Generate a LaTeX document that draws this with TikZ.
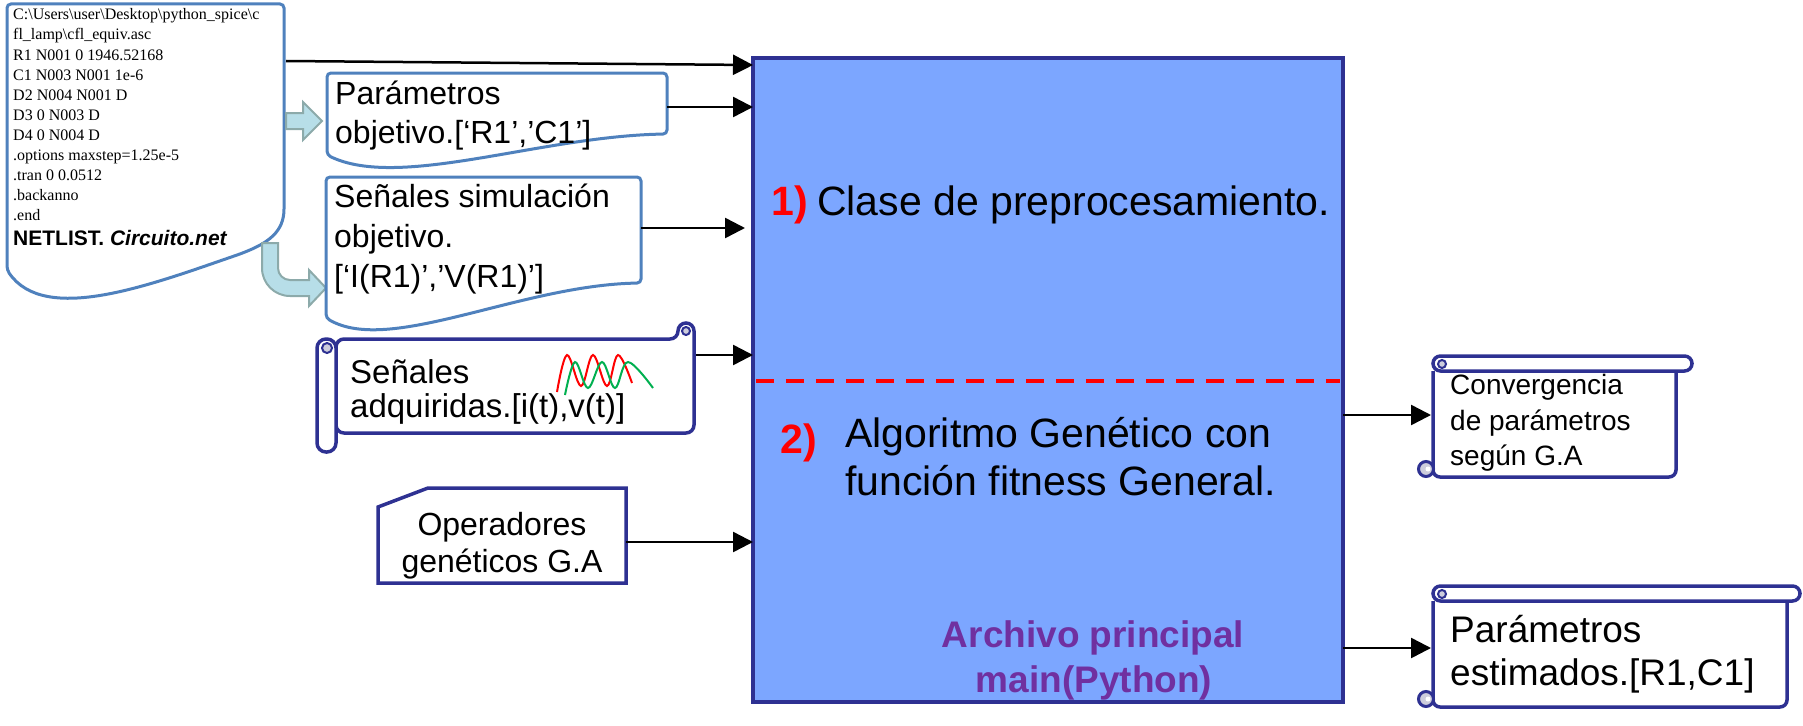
\documentclass[tikz,border=0pt]{standalone}
\usepackage{fontspec}
\setmainfont{Liberation Sans}
\newfontfamily\tnr{Liberation Serif}
\usetikzlibrary{arrows.meta,calc}
\definecolor{docblue}{RGB}{79,129,189}
\definecolor{navy}{RGB}{46,49,146}
\definecolor{mainfill}{RGB}{124,166,255}
\definecolor{tealfill}{RGB}{183,222,232}
\definecolor{tealline}{RGB}{140,170,170}
\definecolor{purp}{RGB}{112,48,160}
\definecolor{grn}{RGB}{0,176,80}
\definecolor{curlgray}{RGB}{205,205,220}
\begin{document}
\begin{tikzpicture}[x=1pt,y=-1pt,
  arr/.style={line width=2.5pt,-{Triangle[length=20pt,width=20pt]}},
  docshape/.style={draw=docblue,line width=3pt,fill=white,rounded corners=4pt},
  scrollline/.style={draw=navy,line width=3.5pt,fill=white},
  curl/.style={draw=navy,line width=2pt,fill=curlgray},
  blockarrow/.style={draw=tealline,line width=2pt,fill=tealfill},
  txt/.style={inner sep=0pt,anchor=base west},
  ctxt/.style={inner sep=0pt,anchor=base},
  net/.style={txt,font=\tnr\fontsize{16}{20}\selectfont},
  f32/.style={font=\fontsize{32}{38}\selectfont},
  f33/.style={font=\fontsize{33}{38}\selectfont},
  f28/.style={font=\fontsize{28}{34}\selectfont},
  f37/.style={font=\fontsize{37}{43}\selectfont},
  f41/.style={font=\fontsize{41}{48}\selectfont},
  numred/.style={txt,text=red,font=\fontsize{41}{48}\selectfont\bfseries},
  purtxt/.style={ctxt,text=purp,font=\fontsize{37}{43}\selectfont\bfseries}
]
\useasboundingbox (0,0) rectangle (1803,725);

% ---------- main box ----------
\node[draw=navy,line width=4pt,fill=mainfill,minimum width=590pt,minimum height=644pt,
      inner sep=0pt,outer sep=0pt,anchor=north west] (main) at (753,58) {};
\coordinate (dashy) at (0,381);
\draw[red,line width=4pt,dash pattern=on 18pt off 12pt] ($(main.west |- dashy)+(3,0)$) -- ($(main.east |- dashy)+(-3,0)$);

\node[numred] (n1) at (771,215) {1)};
\node[txt,f41] (clase) at (817,215) {Clase de preprocesamiento.};
\node[numred] (n2) at (780,453) {2)};
\node[txt,f41] (alg1) at (845,447) {Algoritmo Genético con};
\node[txt,f41] (alg2) at (845,495) {función fitness General.};
\node[purtxt] (arch1) at (1093,647) {Archivo principal};
\node[purtxt] (arch2) at (1094,692) {main(Python)};

% ---------- netlist document ----------
\draw[docshape] (7,100) -- (7,4) -- (284,4) -- (284,205)
  .. controls (284,232) and (268,243) .. (240,254)
  .. controls (150,285) and (45,325) .. (7,270) -- cycle;
\node[net] (l1) at (13,20) {C:\textbackslash Users\textbackslash user\textbackslash Desktop\textbackslash python\_spice\textbackslash c};
\node[net] (l2) at (13,40) {fl\_lamp\textbackslash cfl\_equiv.asc};
\node[net] (l3) at (13,60) {R1 N001 0 1946.52168};
\node[net] (l4) at (13,80) {C1 N003 N001 1e-6};
\node[net] (l5) at (13,100) {D2 N004 N001 D};
\node[net] (l6) at (13,120) {D3 0 N003 D};
\node[net] (l7) at (13,140) {D4 0 N004 D};
\node[net] (l8) at (13,160) {.options maxstep=1.25e-5};
\node[net] (l9) at (13,180) {.tran 0 0.0512};
\node[net] (l10) at (13,200) {.backanno};
\node[net] (l11) at (13,220) {.end};
\node[txt,font=\fontsize{21}{25}\selectfont\bfseries] (netlist) at (13,245) {NETLIST. \itshape Circuito.net};

% ---------- block arrows ----------
\draw[blockarrow] (286,113) -- (303,113) -- (303,102) -- (322,121) -- (303,140) -- (303,129) -- (286,129) -- cycle;
\draw[blockarrow] (262,243) -- (262,268) .. controls (262,283.5) and (274.5,296) .. (290,296)
  -- (309,296) -- (309,306) -- (326,288) -- (309,270) -- (309,280) -- (290,280)
  .. controls (283.4,280) and (278,274.6) .. (278,268) -- (278,243) -- cycle;

% ---------- Parametros objetivo ----------
\draw[docshape] (327,110) -- (327,73) -- (667,73) -- (667,134)
  .. controls (540,136) and (400,190) .. (327,155) -- cycle;
\node[txt,f32] (po1) at (335,104) {Parámetros};
\node[txt,f32] (po2) at (335,143) {objetivo.[‘R1’,’C1’]};

% ---------- Senales simulacion ----------
\draw[docshape] (326,250) -- (326,177) -- (641,177) -- (641,283)
  .. controls (520,285) and (390,355) .. (326,318) -- cycle;
\node[txt,f32] (ss1) at (334,207) {Señales simulación};
\node[txt,f32] (ss2) at (334,247) {objetivo.};
\node[txt,f32] (ss3) at (334,287) {[‘I(R1)’,’V(R1)’]};

% ---------- Senales adquiridas (scroll) ----------
\draw[scrollline,rounded corners=8pt] (336,339) -- (678,339) -- (678,323) -- (694,323) -- (694,433) -- (336,433) -- cycle;
\draw[curl] (686,331) circle[radius=4];
\draw[scrollline,rounded corners=9pt] (317,339) rectangle (336,452);
\draw[curl] (327,348) circle[radius=5];
\node[txt,f33] (sa1) at (350,383) {Señales};
\node[txt,f33] (sa2) at (350,417) {adquiridas.[i(t),v(t)]};
\draw[red,line width=2pt] plot[smooth,tension=0.6] coordinates {(557,392) (567,355) (581,386) (593,355) (607,386) (618,355) (632,383)};
\draw[grn,line width=2pt] plot[smooth,tension=0.6] coordinates {(565,395) (575,362) (588,388) (602,362) (615,388) (628,362) (653,388)};

% ---------- Operadores ----------
\draw[draw=navy,line width=3.5pt,fill=white] (378,507) -- (428,488) -- (626,488) -- (626,583) -- (378,583) -- cycle;
\node[ctxt,f32] (op1) at (502,535) {Operadores};
\node[ctxt,f32] (op2) at (502,572) {genéticos G.A};

% ---------- Convergencia (scroll) ----------
\draw[scrollline,rounded corners=7pt] (1433,371) -- (1433,477) -- (1676,477) -- (1676,371);
\draw[scrollline,rounded corners=7.5pt] (1433,356) rectangle (1692,371);
\draw[curl] (1442,364) circle[radius=4];
\draw[curl,line width=3pt] (1426,469) circle[radius=7.5];
\fill[white] (1428,469) circle[radius=2.5];
\node[txt,f28] (cv1) at (1450,394) {Convergencia};
\node[txt,f28] (cv2) at (1450,430) {de parámetros};
\node[txt,f28] (cv3) at (1450,465) {según G.A};

% ---------- Parametros estimados (scroll) ----------
\draw[scrollline,rounded corners=7pt] (1433,601) -- (1433,707) -- (1787,707) -- (1787,601);
\draw[scrollline,rounded corners=7.5pt] (1433,586) rectangle (1800,601);
\draw[curl] (1442,594) circle[radius=4];
\draw[curl,line width=3pt] (1426,699) circle[radius=7.5];
\fill[white] (1428,699) circle[radius=2.5];
\node[txt,f37] (pe1) at (1450,642) {Parámetros};
\node[txt,f37] (pe2) at (1450,685) {estimados.[R1,C1]};

% ---------- connectors ----------
\coordinate (netout) at (286,61);
\draw[arr] (netout) -- ($(main.north west)+(0,7)$);
\coordinate (pobjout) at (667,107);
\draw[arr] (pobjout) -- (pobjout -| main.west);
\coordinate (ssimout) at (641,228);
\draw[arr] (ssimout) -- ($(ssimout -| main.west)+(-8,0)$);
\coordinate (sadqout) at (696,355);
\draw[arr] (sadqout) -- (sadqout -| main.west);
\coordinate (opsout) at (626,542);
\draw[arr] (opsout) -- (opsout -| main.west);
\coordinate (convin) at (1431,415);
\draw[arr] (convin -| main.east) -- (convin);
\coordinate (pestin) at (1431,648);
\draw[arr] (pestin -| main.east) -- (pestin);
\end{tikzpicture}
\end{document}
